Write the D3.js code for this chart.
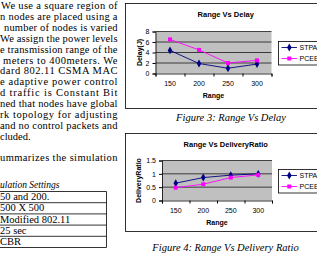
<!DOCTYPE html>
<html>
<head>
<meta charset="utf-8">
<script src="https://cdn.jsdelivr.net/npm/d3@7"></script>
<style>
  body { margin: 0; background: #fff; }
  svg { display: block; }
  .bodyText { font-family: "Liberation Serif", "Times New Roman", serif; font-size: 10.5px; fill: #000; }
  .chartText { font-family: "Liberation Sans", Arial, sans-serif; fill: #000; }
</style>
</head>
<body>
<svg id="page" width="317" height="264"></svg>
<script>
// chart data
const ranges = ["150", "200", "250", "300"];
const seriesNames = ["STPA", "PCEE"];
const delaySTPA = [4.4, 1.9, 1.0, 1.8];
const delayPCEE = [6.5, 4.5, 2.0, 2.5];
const ratioSTPA = [0.65, 0.86, 0.95, 1.0];
const ratioPCEE = [0.48, 0.61, 0.86, 0.96];
const delayTicks = [0, 2, 4, 6, 8];
const ratioTicks = [0, 0.5, 1, 1.5];

// page text around the figures
const bodyLines = [
  "We use a square region of",
  "n nodes are placed using a",
  "number of nodes is varied",
  "We assign the power levels",
  "e transmission range of the",
  "meters to 400meters. We",
  "dard 802.11 CSMA MAC",
  "e adaptive power control",
  "d traffic is Constant Bit",
  "ned that nodes have global",
  "rk topology for adjusting",
  "and no control packets and",
  "cluded."
];
const lineStart = [1, 0, 4, 0, 0, 3, 0, 0, 0, 0, 0, 0, 0];
const tableRows = ["50 and 200.", "500 X 500", "Modified 802.11", "25 sec", "CBR"];

const svg = d3.select("#page");
const colors = { STPA: "#000080", PCEE: "#ff00ff" };

// left column
const textRight = 117.5;
svg.selectAll(".bodyLine")
  .data(bodyLines)
  .enter()
  .append("text")
  .attr("class", "bodyText")
  .attr("x", (d, i) => lineStart[i])
  .attr("y", (d, i) => 9 + i * 10.9)
  .attr("textLength", (d, i) => i < bodyLines.length - 1 ? textRight - lineStart[i] : null)
  .attr("lengthAdjust", "spacing")
  .text(d => d);

svg.append("text")
  .attr("class", "bodyText")
  .attr("x", 0)
  .attr("y", 161)
  .attr("textLength", textRight)
  .attr("lengthAdjust", "spacing")
  .text("ummarizes the simulation");

svg.append("text")
  .attr("class", "bodyText")
  .attr("x", 0)
  .attr("y", 188)
  .style("font-style", "italic")
  .style("font-size", "9.5px")
  .text("ulation Settings");

const rowH = 11.2;
const tableTop = 191.5;
svg.selectAll(".rowLine")
  .data(d3.range(tableRows.length + 1))
  .enter()
  .append("line")
  .attr("x1", 0).attr("x2", 106.5)
  .attr("y1", d => tableTop + d * rowH)
  .attr("y2", d => tableTop + d * rowH)
  .attr("stroke", "#000").attr("stroke-width", 0.8);
svg.append("line")
  .attr("x1", 106.5).attr("x2", 106.5)
  .attr("y1", tableTop).attr("y2", tableTop + tableRows.length * rowH)
  .attr("stroke", "#000").attr("stroke-width", 0.8);
svg.selectAll(".rowText")
  .data(tableRows)
  .enter()
  .append("text")
  .attr("class", "bodyText")
  .attr("x", 0)
  .attr("y", (d, i) => tableTop + i * rowH + 8.6)
  .text(d => d);

function drawChart(cfg) {
  const g = svg.append("g");

  g.append("rect")
    .attr("x", 125.5).attr("y", cfg.boxTop)
    .attr("width", 220).attr("height", cfg.boxBottom - cfg.boxTop)
    .attr("fill", "#fff").attr("stroke", "#000").attr("stroke-width", 0.8);

  const x = d3.scaleBand().domain(ranges).range([cfg.left, cfg.right]);
  const xEdge = d3.scaleLinear().domain([0, ranges.length]).range([cfg.left, cfg.right]);
  const y = d3.scaleLinear().domain([0, cfg.yMax]).range([cfg.bottom, cfg.top]);

  g.append("rect")
    .attr("x", cfg.left).attr("y", cfg.top)
    .attr("width", cfg.right - cfg.left).attr("height", cfg.bottom - cfg.top)
    .attr("fill", "#c0c0c0");

  g.selectAll(".grid")
    .data(cfg.ticks.filter(t => t > 0))
    .enter()
    .append("line")
    .attr("x1", cfg.left).attr("x2", cfg.right)
    .attr("y1", d => y(d)).attr("y2", d => y(d))
    .attr("stroke", "#000").attr("stroke-width", 0.7);

  const yAxis = g.append("g")
    .attr("transform", `translate(${cfg.left},0)`)
    .call(d3.axisLeft(y).tickValues(cfg.ticks).tickSize(3).tickPadding(3).tickFormat(d3.format("")));
  yAxis.select(".domain").attr("stroke-width", 0.8);
  yAxis.selectAll("text").attr("class", "chartText").style("font-size", "7px").attr("font-family", null);

  const xAxis = g.append("g")
    .attr("transform", `translate(0,${cfg.bottom})`)
    .call(d3.axisBottom(xEdge).tickValues(d3.range(ranges.length + 1)).tickSize(3).tickFormat(""));
  xAxis.select(".domain").attr("stroke-width", 0.8);

  g.selectAll(".xLabel")
    .data(ranges)
    .enter()
    .append("text")
    .attr("class", "chartText")
    .attr("x", d => x(d) + x.bandwidth() / 2)
    .attr("y", cfg.bottom + 12.5)
    .attr("text-anchor", "middle")
    .style("font-size", "7px")
    .text(d => d);

  g.append("text")
    .attr("class", "chartText")
    .attr("x", (cfg.left + cfg.right) / 2)
    .attr("y", cfg.bottom + 24)
    .attr("text-anchor", "middle")
    .style("font-size", "7px").style("font-weight", "bold")
    .text("Range");

  g.append("text")
    .attr("class", "chartText")
    .attr("x", 225.7)
    .attr("y", cfg.boxTop + 13)
    .attr("text-anchor", "middle")
    .style("font-size", "7.5px").style("font-weight", "bold")
    .text(cfg.title);

  g.append("text")
    .attr("class", "chartText")
    .attr("transform", `translate(${cfg.yTitleX},${(cfg.top + cfg.bottom) / 2}) rotate(-90)`)
    .attr("text-anchor", "middle")
    .style("font-size", "7px").style("font-weight", "bold")
    .text(cfg.yTitle);

  const line = d3.line()
    .x((d, i) => x(ranges[i]) + x.bandwidth() / 2)
    .y(d => y(d));

  const series = [
    { name: "STPA", values: cfg.stpa, symbol: d3.symbolDiamond, size: 18 },
    { name: "PCEE", values: cfg.pcee, symbol: d3.symbolSquare, size: 16 }
  ];

  series.forEach(s => {
    g.append("path")
      .attr("d", line(s.values))
      .attr("fill", "none")
      .attr("stroke", colors[s.name])
      .attr("stroke-width", 0.9);
    g.selectAll(".pt" + s.name)
      .data(s.values)
      .enter()
      .append("path")
      .attr("transform", (d, i) => `translate(${x(ranges[i]) + x.bandwidth() / 2},${y(d)})`)
      .attr("d", d3.symbol().type(s.symbol).size(s.size))
      .attr("fill", colors[s.name]);
  });

  // legend, cut by the right edge as in the page scan
  const lg = g.append("g");
  lg.append("rect")
    .attr("x", 278.5).attr("y", cfg.legendTop)
    .attr("width", 60).attr("height", 23.5)
    .attr("fill", "#fff").attr("stroke", "#000").attr("stroke-width", 0.8);
  series.forEach((s, i) => {
    const ly = cfg.legendTop + 6 + i * 11;
    lg.append("line")
      .attr("x1", 281.5).attr("x2", 297)
      .attr("y1", ly).attr("y2", ly)
      .attr("stroke", colors[s.name]).attr("stroke-width", 0.9);
    lg.append("path")
      .attr("transform", `translate(289.3,${ly})`)
      .attr("d", d3.symbol().type(s.symbol).size(s.size))
      .attr("fill", colors[s.name]);
    lg.append("text")
      .attr("class", "chartText")
      .attr("x", 299.5).attr("y", ly + 2.5)
      .style("font-size", "7px")
      .text(s.name);
  });

  svg.append("text")
    .attr("class", "bodyText")
    .attr("x", cfg.captionX)
    .attr("y", cfg.captionY)
    .attr("text-anchor", "middle")
    .style("font-style", "italic")
    .text(cfg.caption);
}

drawChart({
  boxTop: 3.5, boxBottom: 108.5,
  left: 155.5, right: 271.5, top: 31.5, bottom: 73.5,
  yMax: 8, ticks: delayTicks,
  title: "Range Vs Delay", yTitle: "Delay(J)", yTitleX: 142,
  stpa: delaySTPA, pcee: delayPCEE,
  legendTop: 41.5,
  caption: "Figure 3: Range Vs Delay", captionX: 231, captionY: 121
});

drawChart({
  boxTop: 133.5, boxBottom: 231.5,
  left: 162, right: 272, top: 160.5, bottom: 200.5,
  yMax: 1.5, ticks: ratioTicks,
  title: "Range Vs DeliveryRatio", yTitle: "DeliveryRatio", yTitleX: 141,
  stpa: ratioSTPA, pcee: ratioPCEE,
  legendTop: 169.5,
  caption: "Figure 4: Range Vs Delivery Ratio", captionX: 225.5, captionY: 251
});
</script>
</body>
</html>
